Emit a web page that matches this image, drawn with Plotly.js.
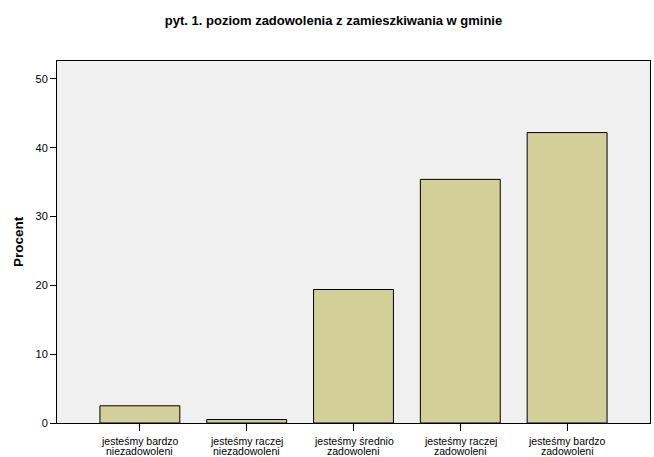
<!DOCTYPE html>
<html>
<head>
<meta charset="utf-8">
<script src="https://cdn.plot.ly/plotly-3.0.1.min.js"></script>
<style>html,body{margin:0;padding:0;background:#fff;}#chart{width:654px;height:457px;}</style>
</head>
<body>
<div id="chart"></div>
<script>
const labelLine1 = [
  "jesteśmy bardzo",
  "jesteśmy raczej",
  "jesteśmy średnio",
  "jesteśmy raczej",
  "jesteśmy bardzo"
];
const labelLine2 = [
  "niezadowoleni",
  "niezadowoleni",
  "zadowoleni",
  "zadowoleni",
  "zadowoleni"
];
const percentValues = [2.5, 0.5, 19.4, 35.4, 42.2];
const yTickVals = [0, 10, 20, 30, 40, 50];

const xIdx = labelLine1.map((c, i) => i);

const trace = {
  type: 'bar',
  x: xIdx,
  y: percentValues,
  width: 0.748,
  marker: {color: '#d3cf98', line: {color: '#000000', width: 1}},
  hoverinfo: 'none'
};

const labelFont = {size: 10.5, family: 'Liberation Sans, Arial, sans-serif', color: '#000'};
const annotations = [];
xIdx.forEach(i => {
  annotations.push({x: i, xref: 'x', y: 0, yref: 'paper', yshift: -18, text: labelLine1[i],
    showarrow: false, xanchor: 'center', yanchor: 'middle', borderpad: 0, font: labelFont});
  annotations.push({x: i, xref: 'x', y: 0, yref: 'paper', yshift: -27.5, text: labelLine2[i],
    showarrow: false, xanchor: 'center', yanchor: 'middle', borderpad: 0, font: labelFont});
});

const layout = {
  width: 654, height: 457,
  margin: {l: 57, r: 4, t: 61, b: 34, pad: 0},
  paper_bgcolor: '#ffffff',
  plot_bgcolor: '#f0f0f0',
  font: {family: 'Liberation Sans, Arial, sans-serif', color: '#000000'},
  title: {
    text: '<b>pyt. 1. poziom zadowolenia z zamieszkiwania w gminie</b>',
    font: {size: 13, family: 'Liberation Sans, Arial, sans-serif', color: '#000000'},
    x: 0.51, xanchor: 'center', y: 0.955, yanchor: 'middle'
  },
  xaxis: {
    range: [-0.776, 4.776],
    tickmode: 'array', tickvals: xIdx, showticklabels: false,
    ticks: 'outside', ticklen: 7, tickwidth: 1, tickcolor: '#000',
    showline: true, mirror: true, linecolor: '#000', linewidth: 1,
    showgrid: false, zeroline: false, fixedrange: true
  },
  yaxis: {
    range: [0, 52.6],
    tickmode: 'array', tickvals: yTickVals,
    ticks: 'outside', ticklen: 6, tickwidth: 1, tickcolor: '#000',
    tickfont: {size: 11, color: '#000'},
    showline: true, mirror: true, linecolor: '#000', linewidth: 1,
    showgrid: false, zeroline: false, fixedrange: true,
    title: {text: '<b>Procent</b>', font: {size: 13.5, color: '#000'}, standoff: 8}
  },
  annotations: annotations,
  showlegend: false,
  bargap: 0
};

Plotly.newPlot('chart', [trace], layout, {displayModeBar: false, staticPlot: true});
</script>
</body>
</html>
